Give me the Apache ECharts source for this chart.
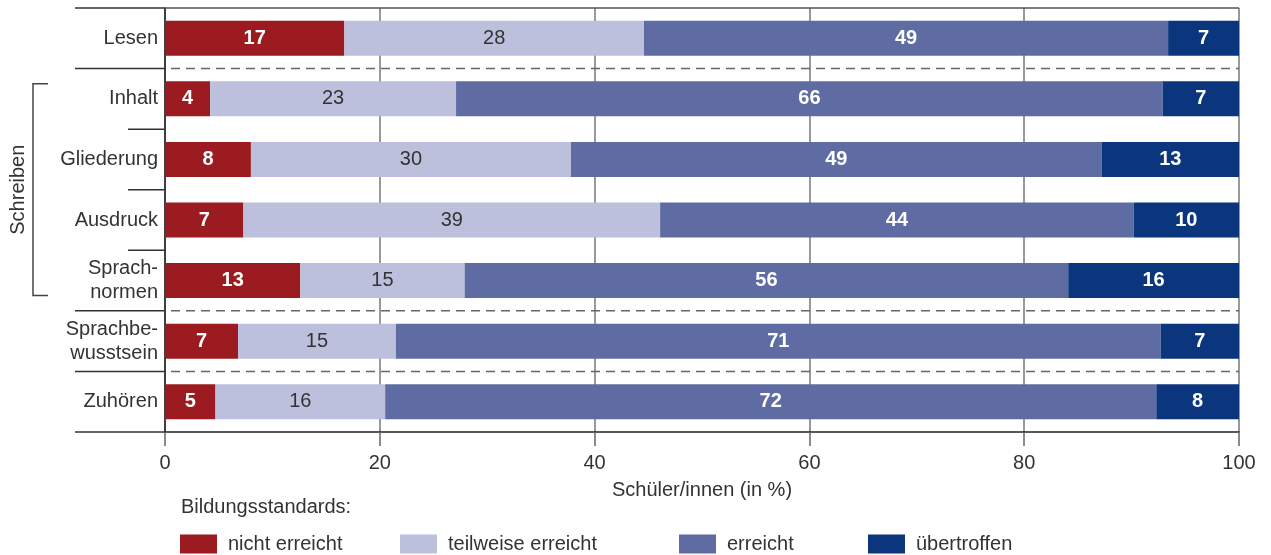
<!DOCTYPE html>
<html>
<head>
<meta charset="utf-8">
<script src="https://cdn.jsdelivr.net/npm/echarts@6/dist/echarts.min.js"></script>
<style>
html,body{margin:0;padding:0;background:#fff;}
#c{width:1271px;height:555px;}
</style>
</head>
<body>
<div id="c"></div>
<script>
const categories = ['Lesen', 'Inhalt', 'Gliederung', 'Ausdruck', 'Sprach-\nnormen', 'Sprachbe-\nwusstsein', 'Zuhören'];
const seriesNames = ['nicht erreicht', 'teilweise erreicht', 'erreicht', 'übertroffen'];
const nichtErreicht = [16.7, 4.2, 8.0, 7.3, 12.6, 6.8, 4.7];
const teilweiseErreicht = [27.9, 22.9, 29.8, 38.8, 15.3, 14.7, 15.8];
const erreicht = [48.8, 65.8, 49.4, 44.1, 56.2, 71.2, 71.8];
const uebertroffen = [6.6, 7.1, 12.8, 9.8, 15.9, 7.3, 7.7];
const xTicks = [0, 20, 40, 60, 80, 100];
const groupLabel = 'Schreiben';
const xAxisName = 'Schüler/innen (in %)';
const legendTitle = 'Bildungsstandards:';

const colors = ['#9b1b20', '#bcc0dc', '#5f6ca3', '#0b367d'];
const FONT = '"Liberation Sans", Arial, Helvetica, sans-serif';
const TXT = '#333';

const chart = echarts.init(document.getElementById('c'), null, {renderer: 'canvas'});

function mkSeries(name, data, color, dark) {
  return {
    name: name, type: 'bar', stack: 'all', data: data, barWidth: 35,
    itemStyle: {color: color},
    label: {
      show: true, position: 'inside',
      formatter: p => String(Math.round(p.value)),
      color: dark ? TXT : '#fff', fontWeight: dark ? 'normal' : 'bold',
      fontSize: 20, fontFamily: FONT
    },
    emphasis: {disabled: true}
  };
}
const legendLefts = [180, 400, 679, 868];

chart.setOption({
  animation: false,
  textStyle: {fontFamily: FONT},
  grid: {left: 165, right: 32, top: 8, bottom: 123, containLabel: false},
  title: {
    text: legendTitle, left: 181, top: 497, padding: 0,
    textStyle: {fontSize: 20, fontWeight: 'normal', color: TXT, fontFamily: FONT}
  },
  legend: seriesNames.map((n, i) => ({
    data: [n], left: legendLefts[i], top: 534, itemWidth: 37, itemHeight: 19,
    icon: 'rect', selectedMode: false, padding: 0,
    textStyle: {fontSize: 20, color: TXT, fontFamily: FONT, padding: [0, 0, 0, 6]}
  })),
  xAxis: {
    type: 'value', min: 0, max: 100, interval: 20,
    name: xAxisName, nameLocation: 'middle', nameGap: 48,
    nameTextStyle: {fontSize: 20, color: TXT, fontFamily: FONT},
    axisLine: {show: true, lineStyle: {color: '#222', width: 1.5}},
    axisTick: {show: true, length: 14, lineStyle: {color: '#666', width: 1.5}},
    axisLabel: {fontSize: 20, color: TXT, margin: 21, fontFamily: FONT},
    splitLine: {show: true, lineStyle: {color: '#777', width: 1.5}}
  },
  yAxis: [{
    type: 'category', data: categories, inverse: true,
    axisLine: {show: true, lineStyle: {color: '#222', width: 1.5}},
    axisTick: {show: false},
    axisLabel: {fontSize: 20, color: TXT, margin: 7, lineHeight: 24, fontFamily: FONT}
  }],
  series: [
    mkSeries(seriesNames[0], nichtErreicht, colors[0], false),
    mkSeries(seriesNames[1], teilweiseErreicht, colors[1], true),
    mkSeries(seriesNames[2], erreicht, colors[2], false),
    mkSeries(seriesNames[3], uebertroffen, colors[3], false)
  ]
});

// separators, computed from the category axis scale
const c0 = chart.convertToPixel({yAxisIndex: 0}, categories[0]);
const c1 = chart.convertToPixel({yAxisIndex: 0}, categories[1]);
const band = c1 - c0;
const boundary = k => c0 - band / 2 + k * band;
const x0 = chart.convertToPixel({xAxisIndex: 0}, 0);
const x100 = chart.convertToPixel({xAxisIndex: 0}, 100);
const longLeft = 75, shortLeft = 128;
const longBounds = [0, 1, 5, 6, 7];
const shortBounds = [2, 3, 4];
const dashedBounds = [1, 5, 6];
const g = [];
longBounds.forEach(k => g.push({type: 'line', z: 10, shape: {x1: longLeft, y1: boundary(k), x2: x0, y2: boundary(k)}, style: {stroke: '#333', lineWidth: 1.5}}));
shortBounds.forEach(k => g.push({type: 'line', z: 10, shape: {x1: shortLeft, y1: boundary(k), x2: x0, y2: boundary(k)}, style: {stroke: '#333', lineWidth: 1.5}}));
dashedBounds.forEach(k => g.push({type: 'line', z: 10, shape: {x1: x0 + 6, y1: boundary(k), x2: x100, y2: boundary(k)}, style: {stroke: '#666', lineWidth: 1.5, lineDash: [9, 6]}}));
g.push({type: 'line', z: 10, shape: {x1: x0, y1: boundary(0), x2: x100, y2: boundary(0)}, style: {stroke: '#555', lineWidth: 1.5}});
// bracket for Schreiben (Inhalt .. Sprachnormen)
const bTop = chart.convertToPixel({yAxisIndex: 0}, categories[1]) - 15;
const bBot = chart.convertToPixel({yAxisIndex: 0}, categories[4]) + 15;
const bx = 33, bx2 = 48;
g.push({type: 'polyline', z: 10, shape: {points: [[bx2, bTop], [bx, bTop], [bx, bBot], [bx2, bBot]]}, style: {stroke: '#444', lineWidth: 1.5, fill: null}});
g.push({type: 'text', z: 10, x: 18, y: (bTop + bBot) / 2, rotation: Math.PI / 2,
  style: {text: groupLabel, fontSize: 20, fontFamily: FONT, fill: TXT, align: 'center', verticalAlign: 'middle'}});
chart.setOption({graphic: g});
</script>
</body>
</html>
